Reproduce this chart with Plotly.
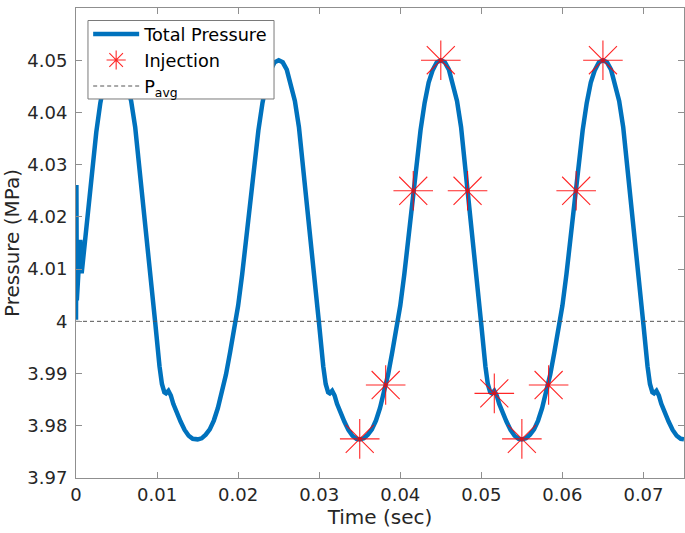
import plotly.graph_objects as go

# ---- data ----
time_s = [
    0.0000, 0.00005, 0.0001, 0.00053, 0.0007, 0.0011, 0.0015, 0.0020, 0.0025, 0.0030,
    0.0035, 0.0040, 0.0044, 0.0048,
    0.0053, 0.0058, 0.0063, 0.0068, 0.0073, 0.0078, 0.0083, 0.0088, 0.0093, 0.0098,
    0.0103, 0.0106, 0.0109, 0.0111, 0.0114, 0.0117, 0.0120, 0.0124, 0.0129, 0.0134,
    0.0139, 0.0144, 0.0150,
    0.0155, 0.0160, 0.0165, 0.0170, 0.0175, 0.0180, 0.0185, 0.0190, 0.0195, 0.0200,
    0.0205, 0.0210, 0.0215, 0.0220, 0.0225, 0.0230, 0.0235, 0.0240, 0.0245, 0.0250,
    0.0255, 0.0260, 0.0265, 0.0270, 0.0275, 0.0280, 0.0285, 0.0290, 0.0295, 0.0300,
    0.0305, 0.0308, 0.0311, 0.0313, 0.0316, 0.0319, 0.0322, 0.0326, 0.0331, 0.0336,
    0.0341, 0.0346, 0.0350,
    0.0355, 0.0360, 0.0365, 0.0370, 0.0375, 0.0380, 0.0385, 0.0390, 0.0395, 0.0400,
    0.0405, 0.0410, 0.0415, 0.0420, 0.0425, 0.0430, 0.0435, 0.0440, 0.0445, 0.0450,
    0.0455, 0.0460, 0.0465, 0.0470, 0.0475, 0.0480, 0.0485, 0.0490, 0.0495, 0.0500,
    0.0505, 0.0508, 0.0511, 0.0513, 0.0516, 0.0519, 0.0522, 0.0526, 0.0531, 0.0536,
    0.0541, 0.0546, 0.0550,
    0.0555, 0.0560, 0.0565, 0.0570, 0.0575, 0.0580, 0.0585, 0.0590, 0.0595, 0.0600,
    0.0605, 0.0610, 0.0615, 0.0620, 0.0625, 0.0630, 0.0635, 0.0640, 0.0645, 0.0650,
    0.0655, 0.0660, 0.0665, 0.0670, 0.0675, 0.0680, 0.0685, 0.0690, 0.0695, 0.0700,
    0.0705, 0.0708, 0.0711, 0.0713, 0.0716, 0.0719, 0.0722, 0.0726, 0.0731, 0.0736,
    0.0741, 0.0746, 0.0750,
]
pressure_mpa = [
    4.0003, 4.0261, 4.0040, 4.0156, 4.0092, 4.0152, 4.0212, 4.0290, 4.0362, 4.0418,
    4.0458, 4.0484, 4.0496, 4.0500,
    4.0496, 4.0482, 4.0454, 4.0422, 4.0372, 4.0300, 4.0228, 4.0155, 4.0078, 3.9993,
    3.9914, 3.9880, 3.9864, 3.9862, 3.9867, 3.9858, 3.9842, 3.9824, 3.9808, 3.9792,
    3.9781, 3.9775, 3.9774,
    3.9776, 3.9783, 3.9793, 3.9810, 3.9834, 3.9864, 3.9898, 3.9940, 3.9982, 4.0030,
    4.0090, 4.0160, 4.0235, 4.0307, 4.0366, 4.0418, 4.0457, 4.0481, 4.0496, 4.0500,
    4.0496, 4.0482, 4.0454, 4.0422, 4.0372, 4.0300, 4.0228, 4.0155, 4.0078, 3.9993,
    3.9914, 3.9880, 3.9864, 3.9862, 3.9867, 3.9858, 3.9842, 3.9824, 3.9808, 3.9792,
    3.9781, 3.9775, 3.9774,
    3.9776, 3.9783, 3.9793, 3.9810, 3.9834, 3.9864, 3.9898, 3.9940, 3.9982, 4.0030,
    4.0090, 4.0160, 4.0235, 4.0307, 4.0366, 4.0418, 4.0457, 4.0481, 4.0496, 4.0500,
    4.0496, 4.0482, 4.0454, 4.0422, 4.0372, 4.0300, 4.0228, 4.0155, 4.0078, 3.9993,
    3.9914, 3.9880, 3.9864, 3.9862, 3.9867, 3.9858, 3.9842, 3.9824, 3.9808, 3.9792,
    3.9781, 3.9775, 3.9774,
    3.9776, 3.9783, 3.9793, 3.9810, 3.9834, 3.9864, 3.9898, 3.9940, 3.9982, 4.0030,
    4.0090, 4.0160, 4.0235, 4.0307, 4.0366, 4.0418, 4.0457, 4.0481, 4.0496, 4.0500,
    4.0496, 4.0482, 4.0454, 4.0422, 4.0372, 4.0300, 4.0228, 4.0155, 4.0078, 3.9993,
    3.9914, 3.9880, 3.9864, 3.9862, 3.9867, 3.9858, 3.9842, 3.9824, 3.9808, 3.9792,
    3.9781, 3.9775, 3.9774,
]

injection_time = [0.0350, 0.0382, 0.0416, 0.0450, 0.0483, 0.0516, 0.0550, 0.0583, 0.0617, 0.0650]
injection_pressure = [3.9775, 3.9878, 4.0250, 4.0500, 4.0250, 3.9862, 3.9775, 3.9878, 4.0250, 4.0500]

p_avg = 4.0

x_ticks = [0, 0.01, 0.02, 0.03, 0.04, 0.05, 0.06, 0.07]
x_tick_labels = ["0", "0.01", "0.02", "0.03", "0.04", "0.05", "0.06", "0.07"]
y_ticks = [3.97, 3.98, 3.99, 4.00, 4.01, 4.02, 4.03, 4.04, 4.05, 4.06]
y_tick_labels = ["3.97", "3.98", "3.99", "4", "4.01", "4.02", "4.03", "4.04", "4.05", "4.06"]

FONT = "DejaVu Sans"
AXIS_GREY = "#8f8f8f"
TEXT = "#262626"

fig = go.Figure()

fig.add_trace(go.Scatter(
    x=time_s, y=pressure_mpa, mode="lines", name="Total Pressure",
    line=dict(color="#0072BD", width=4.5),
))
fig.add_trace(go.Scatter(
    x=injection_time, y=injection_pressure, mode="markers", name="Injection",
    marker=dict(symbol="asterisk", size=33, color="rgba(255,0,0,0.85)",
                line=dict(color="rgba(255,0,0,0.85)", width=1.1)),
))
fig.add_trace(go.Scatter(
    x=[0, 0.075], y=[p_avg, p_avg], mode="lines", name="P<sub>avg</sub>",
    line=dict(color="#555555", width=1, dash="4px,3px"),
))

axis_common = dict(
    showgrid=False, zeroline=False, showline=True, linecolor=AXIS_GREY, linewidth=1,
    mirror="ticks", ticks="inside", ticklen=6, tickcolor=AXIS_GREY, tickwidth=1,
    tickfont=dict(family=FONT, size=18, color=TEXT), automargin=False,
)

# legend frame drawn as a shape so the rows can sit tighter inside it
fig.add_shape(type="rect", xref="paper", yref="paper",
              x0=0.0197, x1=0.3257, y0=0.8064, y1=0.9734,
              fillcolor="white", line=dict(color="#7a7a7a", width=1), layer="above")

fig.update_layout(
    width=685, height=533,
    margin=dict(l=76, r=1, t=8, b=55),
    paper_bgcolor="white", plot_bgcolor="white",
    font=dict(family=FONT, color=TEXT),
    xaxis=dict(range=[0, 0.075], tickvals=x_ticks, ticktext=x_tick_labels,
               title=dict(text="Time (sec)", font=dict(family=FONT, size=20, color=TEXT), standoff=2),
               **axis_common),
    yaxis=dict(range=[3.97, 4.06], tickvals=y_ticks, ticktext=y_tick_labels,
               ticklabelstandoff=4,
               title=dict(text="Pressure (MPa)", font=dict(family=FONT, size=20, color=TEXT), standoff=6),
               **axis_common),
    legend=dict(x=0.02, y=0.983, xanchor="left", yanchor="top",
                bgcolor="rgba(0,0,0,0)", borderwidth=0,
                font=dict(family=FONT, size=17.7, color="black"),
                itemwidth=46, tracegroupgap=0),
    showlegend=True,
)

fig.write_html(
    "out.html",
    config={"displayModeBar": False},
    post_script="document.body.style.margin='0';document.body.style.padding='0';",
)
